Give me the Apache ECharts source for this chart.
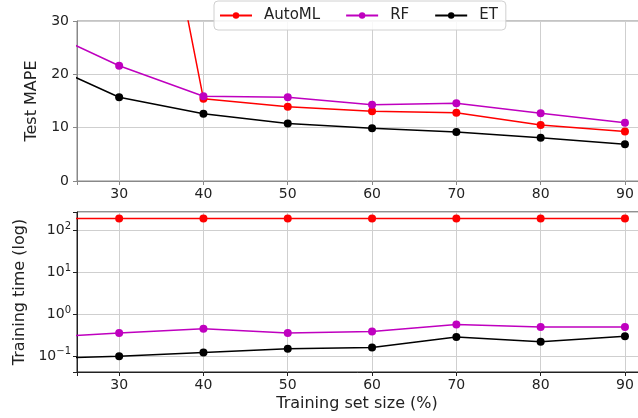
<!DOCTYPE html>
<html>
<head>
<meta charset="utf-8">
<script src="https://cdn.jsdelivr.net/npm/echarts@6/dist/echarts.min.js"></script>
<style>
  html, body { margin: 0; padding: 0; background: #fff; }
  #chart { width: 638px; height: 418px; }
</style>
</head>
<body>
<div id="chart"></div>
<script>
// training set size (%), the 20% point sits left of the visible range
var sizes = [20, 30, 40, 50, 60, 70, 80, 90];

// Test MAPE
var mapeAutoML = [140, 96, 15.4, 13.9, 13.1, 12.8, 10.5, 9.3];
var mapeRF = [29.0, 21.6, 15.9, 15.7, 14.3, 14.6, 12.7, 10.9];
var mapeET = [22.9, 15.7, 12.6, 10.8, 9.9, 9.2, 8.1, 6.9];

// training time (log axis)
var timeAutoML = [195, 195, 195, 195, 195, 195, 195, 195];
var timeRF = [0.276, 0.36, 0.455, 0.36, 0.393, 0.578, 0.499, 0.499];
var timeET = [0.087, 0.101, 0.124, 0.151, 0.163, 0.288, 0.223, 0.304];

var names = ["AutoML", "RF", "ET"];
var colors = ["#ff0000", "#bf00bf", "#000000"];
var textColor = "#222";
var font = "DejaVu Sans";

function pairs(ys) {
  return sizes.map(function (x, i) { return [x, ys[i]]; });
}

// only label the multiples of 10
function tens(v) {
  var k = Math.round(v / 10);
  return Math.abs(v / 10 - k) < 1e-6 ? String(k * 10) : "";
}

function xAxisFor(gridIndex, lineColor) {
  return {
    type: "value",
    gridIndex: gridIndex,
    min: 25,
    max: 92.26,
    axisLine: { show: true, onZero: false, lineStyle: { color: lineColor, width: 1 } },
    axisTick: { show: true, length: 4, lineStyle: { color: lineColor } },
    axisLabel: { color: textColor, fontFamily: font, fontSize: 14, margin: 6, formatter: tens },
    splitLine: { show: true, lineStyle: { color: "#cfcfcf", width: 1 } },
  };
}

function line(name, color, ys, xi, yi) {
  return {
    name: name, type: "line", xAxisIndex: xi, yAxisIndex: yi, data: pairs(ys),
    symbol: "circle", symbolSize: 8, clip: true, color: color,
    lineStyle: { color: color, width: 1.5 }, itemStyle: { color: color }, animation: false,
  };
}

var chart = echarts.init(document.getElementById("chart"), null, { renderer: "canvas" });

chart.setOption({
  backgroundColor: "#fff",
  textStyle: { fontFamily: font },
  title: {
    text: "Training set size (%)", left: 357, top: 396, padding: 0, textAlign: "center",
    textStyle: { color: textColor, fontFamily: font, fontSize: 16, fontWeight: "normal" },
  },
  legend: {
    data: names, left: 214, top: 1, itemWidth: 32, itemHeight: 8, itemGap: 25,
    padding: [7, 8, 7, 5], backgroundColor: "rgba(255,255,255,0.85)",
    borderColor: "#d0d0d0", borderWidth: 1, borderRadius: 4,
    formatter: function (n) { return "{p| }{t|" + n + "}"; },
    textStyle: {
      color: textColor, fontFamily: font, fontSize: 15,
      rich: { p: { width: 7, fontSize: 15 }, t: { color: textColor, fontFamily: font, fontSize: 15 } },
    },
    z: 10,
  },
  grid: [
    { left: 77, right: -6, top: 21, height: 160, show: true, borderColor: "#888", borderWidth: 1, outerBoundsMode: "none" },
    { left: 77, right: -6, top: 212, height: 160, show: true, borderColor: "#222", borderWidth: 1, outerBoundsMode: "none" },
  ],
  xAxis: [xAxisFor(0, "#888"), xAxisFor(1, "#222")],
  yAxis: [
    {
      type: "value", gridIndex: 0, min: 0, max: 30, interval: 10,
      name: "Test MAPE", nameLocation: "middle", nameGap: 31,
      nameTextStyle: { color: textColor, fontFamily: font, fontSize: 16 },
      axisLine: { show: true, lineStyle: { color: "#888" } },
      axisTick: { show: true, length: 4, lineStyle: { color: "#888" } },
      axisLabel: { color: textColor, fontFamily: font, fontSize: 14, margin: 8 },
      splitLine: { show: true, lineStyle: { color: "#cfcfcf" } },
    },
    {
      type: "log", logBase: 10, gridIndex: 1, min: 0.0423, max: 280,
      name: "Training time (log)", nameLocation: "middle", nameGap: 49,
      nameTextStyle: { color: textColor, fontFamily: font, fontSize: 16 },
      axisLine: { show: true, lineStyle: { color: "#222" } },
      axisTick: { show: true, length: 4, lineStyle: { color: "#222" } },
      axisLabel: {
        color: textColor, fontFamily: font, fontSize: 14, margin: 6,
        formatter: function (v) {
          var l = Math.log10(v);
          var e = Math.round(l);
          if (Math.abs(l - e) > 1e-6) return "";
          return "{b|10}{s|" + (e < 0 ? "\u2212" + (-e) : e) + "}";
        },
        rich: {
          b: { fontSize: 14, fontFamily: font, color: textColor },
          s: { fontSize: 10, fontFamily: font, color: textColor, padding: [0, 0, 9, 0] },
        },
      },
      splitLine: { show: true, lineStyle: { color: "#cfcfcf" } },
    },
  ],
  series: [
    line(names[0], colors[0], mapeAutoML, 0, 0),
    line(names[1], colors[1], mapeRF, 0, 0),
    line(names[2], colors[2], mapeET, 0, 0),
    line(names[0], colors[0], timeAutoML, 1, 1),
    line(names[1], colors[1], timeRF, 1, 1),
    line(names[2], colors[2], timeET, 1, 1),
  ],
});
</script>
</body>
</html>
